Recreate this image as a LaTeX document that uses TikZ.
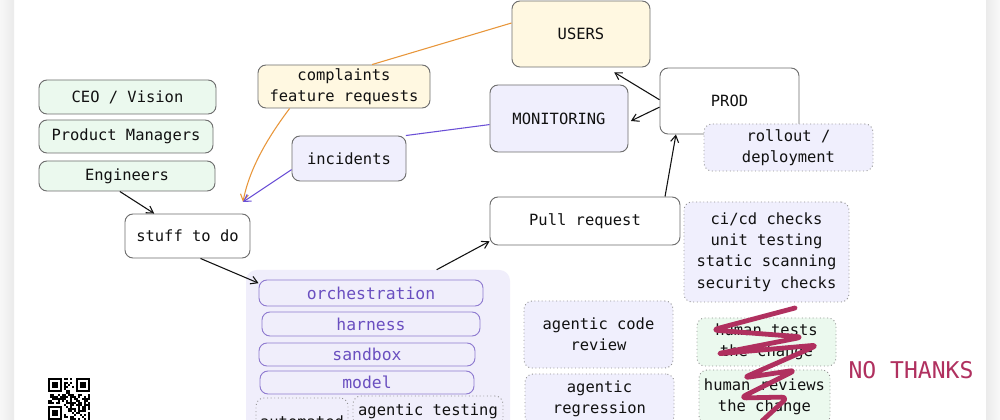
\documentclass[tikz,border=0pt]{standalone}
\usepackage{fontspec}
\setmonofont{DejaVu Sans Mono}
\usetikzlibrary{arrows.meta}
\definecolor{ink}{HTML}{111111}
\definecolor{edge}{HTML}{6E6E6E}
\definecolor{yel}{HTML}{FFF8E1}
\definecolor{lav}{HTML}{F0EFFD}
\definecolor{grn}{HTML}{EBF9EE}
\definecolor{purp}{HTML}{6A4FC0}
\definecolor{org}{HTML}{E8963A}
\definecolor{vio}{HTML}{6A4FD6}
\definecolor{scr}{HTML}{B0305F}

\begin{document}
\begin{tikzpicture}[x=0.75pt,y=-0.75pt,>={Straight Barb[length=5pt,width=6pt]},
 font=\ttfamily\fontsize{11.6}{15.5}\selectfont,
 sz/.style 2 args={minimum width=#1*0.75pt,minimum height=#2*0.75pt},
 box/.style={draw=edge,rounded corners=6pt,inner sep=0pt,align=center,text=ink,line width=0.7pt},
 dbox/.style={box,dotted,draw=gray!85},
 pbox/.style={box,draw=purp!75,text=purp,font=\ttfamily\fontsize{12.3}{15}\selectfont},
 ln/.style={->,line width=0.8pt,draw=ink}]
\clip (0,0) rectangle (1000,420);
\fill[white] (0,0) rectangle (1000,420);
\shade[left color=gray!6,right color=gray!16] (0,0) rectangle (14,420);
\shade[left color=gray!16,right color=gray!5] (986,0) rectangle (1000,420);

\node[box,fill=yel,sz={138}{66}] (users) at (581,34) {USERS};
\node[box,fill=white,sz={139}{66}] (prod) at (729.5,101) {PROD};
\node[box,fill=lav,sz={138}{67}] (mon) at (559,118.5) {MONITORING};
\node[dbox,fill=lav,sz={169}{47}] (roll) at (788.5,147.5) {rollout /\\deployment};
\node[box,fill=yel,sz={172}{43}] (compl) at (344,86.5) {complaints\\feature requests};
\node[box,fill=lav,sz={114}{45}] (inc) at (349,158.5) {incidents};
\node[box,fill=grn,sz={177}{34}] (ceo) at (127.5,97) {CEO / Vision};
\node[box,fill=grn,sz={174}{33}] (pm) at (126,136.5) {Product Managers};
\node[box,fill=grn,sz={176}{30}] (eng) at (127,176) {Engineers};
\node[box,fill=white,sz={125}{44}] (todo) at (187.5,236) {stuff to do};
\coordinate (todoin) at (243,202);
\node[box,fill=white,sz={190}{48}] (pr) at (585,221) {Pull request};
\node[dbox,fill=lav,sz={165}{100},font=\ttfamily\fontsize{11.6}{16}\selectfont] (ci) at (766.5,252) {ci/cd checks\\unit testing\\static scanning\\security checks};

\node[fill=lav!92!purp!60,rounded corners=8pt,sz={264}{180}] (agent) at (378,360) {};
\node[pbox,sz={224}{26}] (orch) at (371,293) {orchestration};
\node[pbox,sz={218}{24}] (harn) at (371,324) {harness};
\node[pbox,sz={216}{23}] (sand) at (367,354.5) {sandbox};
\node[pbox,sz={214}{23}] (model) at (367,382.5) {model};
\node[dbox,sz={92}{48}] (auto) at (302,422) {automated};
\node[dbox,sz={150}{30}] (agtest) at (428,411) {agentic testing};

\node[dbox,fill=lav,sz={149}{67}] (acr) at (598.5,334.5) {agentic code\\review};
\node[dbox,fill=lav,sz={149}{50}] (areg) at (599.5,399) {agentic\\regression};
\node[dbox,fill=grn,sz={139}{48}] (htest) at (766.5,342) {human tests\\the change};
\node[dbox,fill=grn,sz={131}{54}] (hrev) at (764.5,397) {human reviews\\the change};
\node[text=scr,font=\ttfamily\fontsize{17.3}{20}\selectfont] (nothx) at (911,370) {NO THANKS};

\draw[scr,line width=3.6pt,line cap=round,line join=round,rounded corners=5pt]
 (795,308) -- (712,330) -- (803,337) -- (716,354) -- (818,345) -- (743,378)
 -- (796,370) -- (740,398) -- (788,397) -- (762,421);

\draw[ln] (eng.245) -- (todo.146);
\draw[ln] (todo.300) -- (orch.175);
\draw[ln] (agent.57) -- (pr.192);
\draw[ln] (pr.17.5) -- (prod.212);
\draw[ln,shorten >=7pt] (prod.179) -- (users.307);
\draw[ln,shorten >=2pt] (prod.185) -- (mon.357);
\draw[org,line width=0.8pt] (users.171) -- (compl.38);
\draw[org,line width=0.8pt,->] (compl.202) .. controls (272,132) and (250,165) .. (todoin);
\draw[vio,line width=0.8pt] (mon.185) -- (inc.22);
\draw[vio,line width=0.8pt,->] (inc.191) -- (todoin);

\pgfmathsetseed{42}
\foreach \i in {0,...,20}{\foreach \j in {0,...,20}{
 \pgfmathtruncatemacro\on{(rnd<0.5)&&!((\i<8&&\j<8)||(\i>12&&\j<8)||(\i<8&&\j>12))}
 \ifnum\on=1 \fill (48+2*\i,378+2*\j) rectangle ++(2,2);\fi}}
\foreach \qx/\qy in {48/378,76/378,48/406}{
 \fill (\qx,\qy) rectangle ++(14,14);
 \fill[white] (\qx+2,\qy+2) rectangle ++(10,10);
 \fill (\qx+4,\qy+4) rectangle ++(6,6);}
\end{tikzpicture}
\end{document}
